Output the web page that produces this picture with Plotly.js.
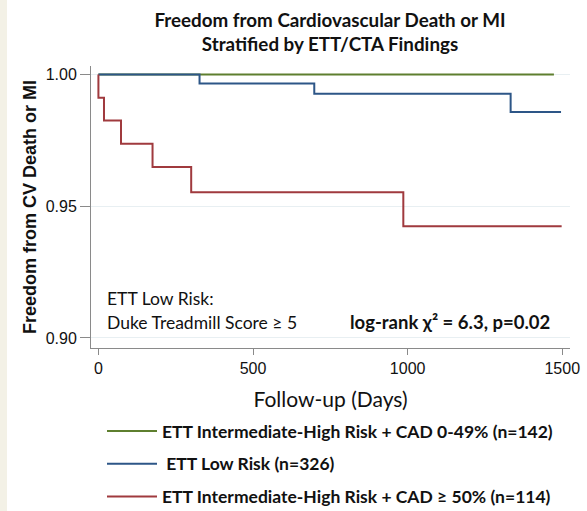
<!DOCTYPE html>
<html>
<head>
<meta charset="utf-8">
<script src="https://cdn.plot.ly/plotly-3.0.1.min.js"></script>
<style>body{margin:0;background:#fff}#chart{width:587px;height:511px}</style>
</head>
<body>
<div id="chart"></div>
<script>
// Data
const greenDays = [0, 1473];
const greenSurv = [1.0, 1.0];
const blueDays = [0, 327, 698, 1333, 1496];
const blueSurv = [1.0, 0.9966, 0.9927, 0.9857, 0.9857];
const redDays = [0, 0, 18, 73, 175, 300, 986, 1498];
const redSurv = [1.0, 0.9912, 0.9825, 0.9737, 0.9649, 0.9553, 0.9424, 0.9424];
const seriesNames = [
  'ETT Intermediate-High Risk + CAD 0-49% (n=142)',
  '\u00a0ETT Low Risk (n=326)',
  'ETT Intermediate-High Risk + CAD \u2265 50% (n=114)'
];
const xTicks = [0, 500, 1000, 1500];
const yTicks = [0.90, 0.95, 1.00];
const yTickLabels = ['0.90', '0.95', '1.00'];

const colors = ['#5e7f2f', '#2d5687', '#a03a3e'];
const mk = (x, y, i) => ({
  x, y, type: 'scatter', mode: 'lines', name: seriesNames[i],
  line: {shape: 'hv', color: colors[i], width: 2},
  legendgroup: 'g' + i, hoverinfo: 'skip'
});
const data = [mk(greenDays, greenSurv, 0), mk(blueDays, blueSurv, 1), mk(redDays, redSurv, 2)];

const PW = 479, PH = 282, ML = 91, MT = 66;
const layout = {
  width: 587, height: 511,
  paper_bgcolor: '#fff', plot_bgcolor: '#fff',
  margin: {l: ML, r: 17, t: MT, b: 163, autoexpand: false},
  title: {
    text: '<b>Freedom from Cardiovascular Death or MI<br>Stratified by ETT/CTA Findings</b>',
    font: {family: 'Lato, sans-serif', size: 18.8, color: '#111'},
    x: 330 / 587, xanchor: 'center', y: 1 - 27 / 511, yanchor: 'top'
  },
  xaxis: {
    range: [-24, 1525], tickvals: xTicks, ticktext: xTicks.map(String),
    showgrid: false, zeroline: false, showline: true, linecolor: '#8a8a8a', linewidth: 1,
    ticks: 'outside', ticklen: 6, tickcolor: '#8a8a8a',
    tickfont: {family: 'Liberation Sans, Arial, sans-serif', size: 16, color: '#111'},
    title: {text: 'Follow-up (Days)', font: {family: 'Lato, sans-serif', size: 21, color: '#111'}, standoff: 16}
  },
  yaxis: {
    range: [0.8962, 1.0032], tickvals: yTicks, ticktext: yTickLabels,
    showgrid: true, gridcolor: '#e8eff2', gridwidth: 1, zeroline: false,
    showline: true, linecolor: '#8a8a8a', linewidth: 1,
    ticks: 'outside', ticklen: 10, tickcolor: '#8a8a8a',
    tickfont: {family: 'Liberation Sans, Arial, sans-serif', size: 16, color: '#111'},
    title: {text: '<b>Freedom from CV Death or MI</b>', font: {family: 'Liberation Sans, Arial, sans-serif', size: 18, color: '#111'}, standoff: 4}
  },
  showlegend: true,
  legend: {
    x: 11 / PW, xanchor: 'left', y: -(413 - (MT + PH)) / PH, yanchor: 'top',
    traceorder: 'grouped', tracegroupgap: 7,
    font: {family: 'Lato, sans-serif', size: 17.5, color: '#111', weight: 'bold'},
    bgcolor: 'rgba(0,0,0,0)', itemwidth: 50
  },
  shapes: [
    {type: 'rect', xref: 'paper', yref: 'paper', layer: 'below',
     x0: -ML / PW, x1: (7 - ML) / PW, y0: -163 / PH, y1: 1 + MT / PH,
     fillcolor: '#f3f1e6', line: {width: 0}}
  ],
  annotations: [
    {xref: 'paper', yref: 'paper', x: 14 / PW, y: 0.177, xanchor: 'left', yanchor: 'middle', showarrow: false,
     text: 'ETT Low Risk:', font: {family: 'Lato, sans-serif', size: 17.5, color: '#111'}},
    {xref: 'paper', yref: 'paper', x: 14 / PW, y: 0.092, xanchor: 'left', yanchor: 'middle', showarrow: false,
     text: 'Duke Treadmill Score \u2265 5', font: {family: 'Lato, sans-serif', size: 17.5, color: '#111'}},
    {xref: 'paper', yref: 'paper', x: 461 / PW, y: 0.092, xanchor: 'right', yanchor: 'middle', showarrow: false,
     text: '<b>log-rank \u03c7\u00b2 = 6.3, p=0.02</b>', font: {family: 'Lato, sans-serif', size: 18.5, color: '#111'}}
  ]
};
Plotly.newPlot('chart', data, layout, {staticPlot: true});
</script>
</body>
</html>
